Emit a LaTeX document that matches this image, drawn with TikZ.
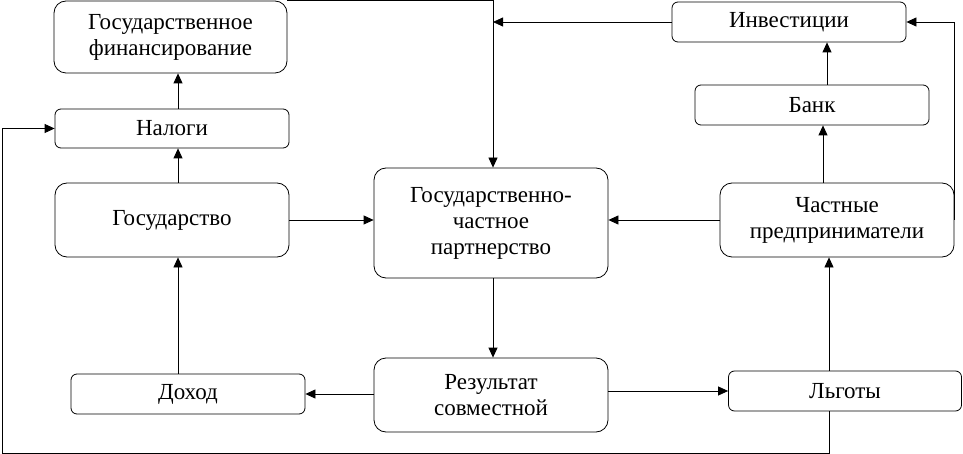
\documentclass[tikz,border=0pt]{standalone}
\usepackage{fontspec}
\setmainfont{Liberation Serif}
\usetikzlibrary{arrows.meta}
\begin{document}
\begin{tikzpicture}[x=1pt,y=-1pt,
 box/.style={draw, line width=0.8pt, align=center, inner sep=0pt, font=\fontsize{23}{26}\selectfont},
 bigbox/.style={box, rounded corners=12pt},
 smallbox/.style={box, rounded corners=6pt},
 arr/.style={draw, line width=0.8pt, -{Triangle[length=10pt,width=9pt]}},
 ln/.style={draw, line width=0.8pt}]
\useasboundingbox (0,0) rectangle (963,454);
\node[bigbox, minimum width=233pt, minimum height=72pt] (fin) at (170.5,37) {Государственное\\финансирование};
\node[smallbox, minimum width=234pt, minimum height=39pt] (nal) at (172,128.5) {Налоги};
\node[bigbox, minimum width=234pt, minimum height=74pt] (gos) at (172,220) {Государство};
\node[bigbox, minimum width=234pt, minimum height=110pt] (gchp) at (491,223) {Государственно-\\частное\\партнерство};
\node[bigbox, minimum width=234pt, minimum height=74pt] (res) at (491,395) {Результат\\совместной};
\node[smallbox, minimum width=234pt, minimum height=40pt] (doh) at (188,394) {Доход};
\node[smallbox, minimum width=233pt, minimum height=40pt] (lg) at (845,391) {Льготы};
\node[bigbox, minimum width=234pt, minimum height=74pt] (chp) at (837,220) {Частные\\предприниматели};
\node[smallbox, minimum width=234pt, minimum height=40pt] (bank) at (812,105) {Банк};
\node[smallbox, minimum width=234pt, minimum height=40pt] (inv) at (789,22) {Инвестиции};
\coordinate (cA) at (178,0);
\coordinate (cB) at (493,0);
\coordinate (cC) at (829,0);
\coordinate (cD) at (823,0);
\coordinate (cE) at (827,0);
\coordinate (bl) at (2,453);
\draw[arr] (nal.north -| cA) -- (fin.south -| cA);
\draw[arr] (gos.north -| cA) -- (nal.south -| cA);
\draw[arr] (doh.north -| cA) -- (gos.south -| cA);
\draw[arr] (gos.east) -- (gchp.west |- gos.east);
\draw[arr] (gchp.south -| cB) -- (res.north -| cB);
\draw[arr] (res.west |- doh.east) -- (doh.east);
\draw[arr] (res.east |- lg.west) -- (lg.west);
\draw[arr] (lg.north -| cC) -- (chp.south -| cC);
\draw[arr] (chp.west) -- (gchp.east |- chp.west);
\draw[arr] (chp.north -| cD) -- (bank.south -| cD);
\draw[arr] (bank.north -| cE) -- (inv.south -| cE);
\draw[arr] (inv.west) -- (inv.west -| cB);
\draw[arr] (fin.north east) -- (fin.north east -| cB) -- (gchp.north -| cB);
\draw[arr] (chp.east) -- (chp.east |- inv.east) -- (inv.east);
\draw[arr] (lg.south -| cC) -- (cC |- bl) -- (bl) -- (bl |- nal.west) -- (nal.west);
\end{tikzpicture}
\end{document}
